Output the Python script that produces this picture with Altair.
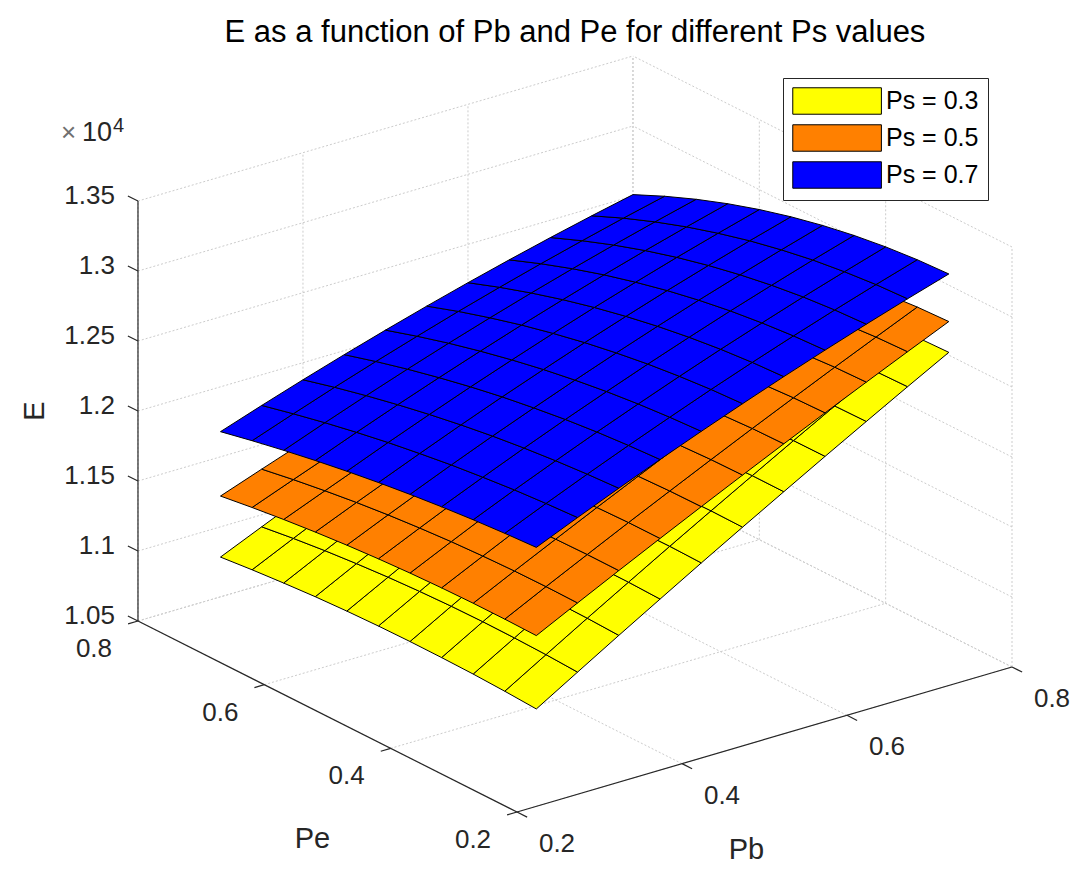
import altair as alt
import pandas as pd

# ---------------- values ----------------
PB = [0.30, 0.35, 0.40, 0.45, 0.50, 0.55, 0.60, 0.65, 0.70, 0.75, 0.80]
PE = [0.30, 0.35, 0.40, 0.45, 0.50, 0.55, 0.60, 0.65, 0.70, 0.75, 0.80]

# rows: Pb (0.30 .. 0.80), columns: Pe (0.30 .. 0.80)
E_PS03 = [
    [10836, 10849, 10858, 10862, 10863, 10860, 10853, 10842, 10826, 10807, 10784],
    [11013, 11024, 11030, 11032, 11029, 11021, 11009, 10992, 10971, 10945, 10914],
    [11189, 11198, 11202, 11200, 11193, 11181, 11164, 11142, 11114, 11081, 11043],
    [11362, 11369, 11370, 11365, 11355, 11338, 11316, 11288, 11255, 11215, 11170],
    [11534, 11539, 11537, 11529, 11515, 11494, 11467, 11434, 11394, 11348, 11295],
    [11703, 11706, 11702, 11691, 11673, 11648, 11615, 11576, 11530, 11477, 11417],
    [11870, 11871, 11864, 11850, 11828, 11799, 11762, 11717, 11665, 11605, 11537],
    [12036, 12035, 12026, 12008, 11983, 11949, 11907, 11856, 11798, 11731, 11656],
    [12199, 12196, 12184, 12164, 12134, 12096, 12049, 11993, 11928, 11855, 11773],
    [12361, 12356, 12342, 12318, 12285, 12242, 12190, 12129, 12058, 11977, 11888],
    [12520, 12513, 12496, 12469, 12432, 12385, 12328, 12261, 12184, 12097, 12000],
]
E_PS05 = [
    [11360, 11364, 11364, 11360, 11352, 11340, 11324, 11304, 11280, 11252, 11220],
    [11507, 11510, 11508, 11501, 11490, 11474, 11454, 11429, 11399, 11365, 11326],
    [11652, 11653, 11649, 11640, 11626, 11606, 11581, 11551, 11516, 11476, 11430],
    [11795, 11795, 11789, 11777, 11759, 11736, 11707, 11672, 11631, 11584, 11532],
    [11936, 11934, 11926, 11912, 11891, 11864, 11830, 11790, 11744, 11691, 11632],
    [12075, 12072, 12062, 12045, 12021, 11990, 11952, 11907, 11855, 11796, 11730],
    [12212, 12208, 12196, 12176, 12149, 12114, 12072, 12022, 11964, 11899, 11826],
    [12347, 12341, 12327, 12305, 12275, 12236, 12189, 12134, 12071, 12000, 11920],
    [12480, 12473, 12457, 12432, 12398, 12356, 12305, 12245, 12176, 12098, 12012],
    [12611, 12602, 12584, 12557, 12520, 12474, 12418, 12353, 12279, 12195, 12102],
    [12740, 12730, 12710, 12680, 12640, 12590, 12530, 12460, 12380, 12290, 12190],
]
E_PS07 = [
    [11990, 11977, 11960, 11939, 11914, 11885, 11852, 11815, 11774, 11729, 11680],
    [12117, 12104, 12087, 12064, 12038, 12006, 11971, 11930, 11885, 11835, 11781],
    [12240, 12227, 12209, 12186, 12158, 12124, 12085, 12041, 11992, 11938, 11878],
    [12359, 12346, 12328, 12304, 12273, 12238, 12196, 12148, 12095, 12036, 11971],
    [12474, 12461, 12442, 12417, 12385, 12347, 12302, 12251, 12194, 12130, 12060],
    [12585, 12573, 12553, 12527, 12493, 12453, 12405, 12351, 12289, 12221, 12145],
    [12692, 12680, 12660, 12632, 12597, 12554, 12504, 12446, 12380, 12307, 12226],
    [12795, 12783, 12762, 12734, 12697, 12652, 12598, 12537, 12467, 12389, 12303],
    [12894, 12882, 12861, 12831, 12792, 12745, 12689, 12624, 12550, 12467, 12376],
    [12989, 12977, 12955, 12925, 12884, 12835, 12775, 12707, 12629, 12542, 12445],
    [13080, 13068, 13046, 13014, 12972, 12920, 12858, 12786, 12704, 12612, 12510],
]

SERIES = ["Ps = 0.3", "Ps = 0.5", "Ps = 0.7"]
COLORS = ["#ffff00", "#ff8000", "#0000ff"]

PB_TICKS = [0.2, 0.4, 0.6, 0.8]
PE_TICKS = [0.2, 0.4, 0.6, 0.8]
PB_TICK_LABELS = ["0.2", "0.4", "0.6", "0.8"]
PE_TICK_LABELS = ["0.2", "0.4", "0.6", "0.8"]
E_TICKS = [10500, 11000, 11500, 12000, 12500, 13000, 13500]
E_TICK_LABELS = ["1.05", "1.1", "1.15", "1.2", "1.25", "1.3", "1.35"]
PB_LIM = (0.2, 0.8)
PE_LIM = (0.2, 0.8)
E_LIM = (10500, 13500)
TITLE = "E as a function of Pb and Pe for different Ps values"

# ---------------- view: orthographic 3-D -> 2-D projection ----------------
W, H = 1072, 860
OX, OY = 517, 812           # page position of corner (Pb=0.2, Pe=0.2, E=10500)
KXB, KXE = 825.0, 631.7     # px per unit Pb / Pe (horizontal)
KYB, KYE, KZ = 241.7, 318.3, 0.14  # px per unit Pb / Pe / E (vertical)
FONT = "Liberation Sans"
AXC = "#262626"

XS = alt.Scale(domain=[8, 8 + W], nice=False, zero=False)
YS = alt.Scale(domain=[8 + H, 8], nice=False, zero=False)


def px(pb, pe, e):
    return f"{OX} + {KXB}*({pb} - {PB_LIM[0]}) - {KXE}*({pe} - {PE_LIM[0]})"


def py(pb, pe, e):
    return (f"{OY} - {KYB}*({pb} - {PB_LIM[0]}) - {KYE}*({pe} - {PE_LIM[0]})"
            f" - {KZ}*({e} - {E_LIM[0]})")


def proj_a(ch):
    return ch.transform_calculate(
        sx=px("datum.a_pb", "datum.a_pe", "datum.a_e"),
        sy=py("datum.a_pb", "datum.a_pe", "datum.a_e"),
    )


def seg_chart(segs, **kw):
    df = pd.DataFrame(segs, columns=["a_pb", "a_pe", "a_e", "b_pb", "b_pe", "b_e"])
    ch = alt.Chart(df).mark_rule(**kw)
    ch = proj_a(ch).transform_calculate(
        sx2=px("datum.b_pb", "datum.b_pe", "datum.b_e"),
        sy2=py("datum.b_pb", "datum.b_pe", "datum.b_e"),
    )
    return ch.encode(
        x=alt.X("sx:Q", scale=XS, axis=None),
        y=alt.Y("sy:Q", scale=YS, axis=None),
        x2="sx2:Q",
        y2="sy2:Q",
    )


def text_chart(points, labels, **kw):
    df = pd.DataFrame(points, columns=["a_pb", "a_pe", "a_e"])
    df["label"] = labels
    ch = proj_a(alt.Chart(df).mark_text(font=FONT, **kw))
    return ch.encode(
        x=alt.X("sx:Q", scale=XS, axis=None),
        y=alt.Y("sy:Q", scale=YS, axis=None),
        text="label:N",
    )


# ---------------- back-plane grid lines ----------------
pb0, pb1 = PB_LIM
pe0, pe1 = PE_LIM
e0, e1 = E_LIM
grid = []
for e in E_TICKS:
    grid.append((pb0, pe1, e, pb1, pe1, e))
    grid.append((pb1, pe0, e, pb1, pe1, e))
for pb in PB_TICKS:
    grid.append((pb, pe1, e0, pb, pe1, e1))
    grid.append((pb, pe0, e0, pb, pe1, e0))
for pe in PE_TICKS:
    grid.append((pb1, pe, e0, pb1, pe, e1))
    grid.append((pb0, pe, e0, pb1, pe, e0))
grid_layer = seg_chart(grid, color="#cccccc", strokeWidth=1, strokeDash=[2, 2])

# ---------------- surfaces ----------------
rows = []
q = 0
for name, gridE in zip(SERIES, [E_PS03, E_PS05, E_PS07]):
    for i in range(len(PB) - 1):
        for j in range(len(PE) - 1):
            for v, (di, dj) in enumerate([(0, 0), (1, 0), (1, 1), (0, 1)]):
                rows.append(dict(series=name, quad=q, v=v,
                                 a_pb=PB[i + di], a_pe=PE[j + dj],
                                 a_e=gridE[i + di][j + dj]))
            q += 1
surf_df = pd.DataFrame(rows)

surf_layer = proj_a(
    alt.Chart(surf_df).mark_line(interpolate="linear-closed", stroke="black",
                                 strokeWidth=1, fillOpacity=1)
).encode(
    x=alt.X("sx:Q", scale=XS, axis=None),
    y=alt.Y("sy:Q", scale=YS, axis=None),
    detail="quad:Q",
    order="v:Q",
    fill=alt.Fill(
        "series:N",
        scale=alt.Scale(domain=SERIES, range=COLORS),
        legend=alt.Legend(
            title=None, orient="none", legendX=775, legendY=70,
            direction="vertical",
            symbolType="M-1,-1H5.7V1H-1Z", symbolSize=700,
            symbolStrokeColor="black", symbolStrokeWidth=1, symbolOpacity=1,
            labelFont=FONT, labelFontSize=25, labelColor="black",
            labelOffset=66, rowPadding=5, padding=9,
            strokeColor=AXC, fillColor="white",
        ),
    ),
)

# ---------------- axes ----------------
axes = [
    (pb0, pe1, e0, pb0, pe1, e1),
    (pb0, pe0, e0, pb0, pe1, e0),
    (pb0, pe0, e0, pb1, pe0, e0),
]
axis_layer = seg_chart(axes, color=AXC, strokeWidth=1.2)

ticks = []
for e in E_TICKS:
    ticks.append((pb0, pe1, e, pb0, pe1 + 0.016, e))
for pe in PE_TICKS:
    ticks.append((pb0, pe, e0, pb0 - 0.012, pe, e0))
for pb in PB_TICKS:
    ticks.append((pb, pe0, e0, pb, pe0 - 0.016, e0))
tick_layer = seg_chart(ticks, color=AXC, strokeWidth=1.2)

z_labels = text_chart([(pb0, pe1, e) for e in E_TICKS], E_TICK_LABELS,
                      align="right", baseline="middle", dx=-23, dy=-5,
                      fontSize=26, color=AXC)
pe_labels = text_chart([(pb0, pe, e0) for pe in PE_TICKS], PE_TICK_LABELS,
                       align="center", baseline="middle", dx=-44, dy=28,
                       fontSize=26, color=AXC)
pb_labels = text_chart([(pb, pe0, e0) for pb in PB_TICKS], PB_TICK_LABELS,
                       align="center", baseline="middle", dx=40, dy=32,
                       fontSize=26, color=AXC)

pe_title = text_chart([(pb0, (pe0 + pe1) / 2, e0)], ["Pe"],
                      align="center", baseline="middle", dx=-15, dy=122,
                      fontSize=29, color=AXC)
pb_title = text_chart([((pb0 + pb1) / 2, pe0, e0)], ["Pb"],
                      align="center", baseline="middle", dx=-18, dy=111,
                      fontSize=29, color=AXC)
e_title = text_chart([(pb0, pe1, (e0 + e1) / 2)], ["E"],
                     align="center", baseline="middle", angle=270, dy=-103,
                     fontSize=29, color=AXC)
exp_x = text_chart([(pb0, pe1, e1)], ["\u00d7"],
                   align="left", baseline="middle", dx=-77, dy=-68,
                   fontSize=26, color="#707070")
exp_base = text_chart([(pb0, pe1, e1)], ["10"],
                      align="left", baseline="middle", dx=-56, dy=-68,
                      fontSize=27, color=AXC)
exp_pow = text_chart([(pb0, pe1, e1)], ["4"],
                     align="left", baseline="middle", dx=-25, dy=-75,
                     fontSize=20, color=AXC)

# chart title, anchored above the top of the back vertical edge of the box
title_layer = text_chart([(pb1, pe1, e1)], [TITLE],
                         align="center", baseline="alphabetic", dx=-58, dy=-14,
                         fontSize=31, color="black")

chart = alt.layer(
    grid_layer, surf_layer, axis_layer, tick_layer,
    z_labels, pe_labels, pb_labels, pe_title, pb_title, e_title,
    exp_x, exp_base, exp_pow, title_layer,
).properties(
    width=W, height=H, padding=0,
    autosize=alt.AutoSizeParams(type="none"),
).configure_view(stroke=None)

chart.save("out.html", embed_options={"renderer": "svg", "actions": False})
